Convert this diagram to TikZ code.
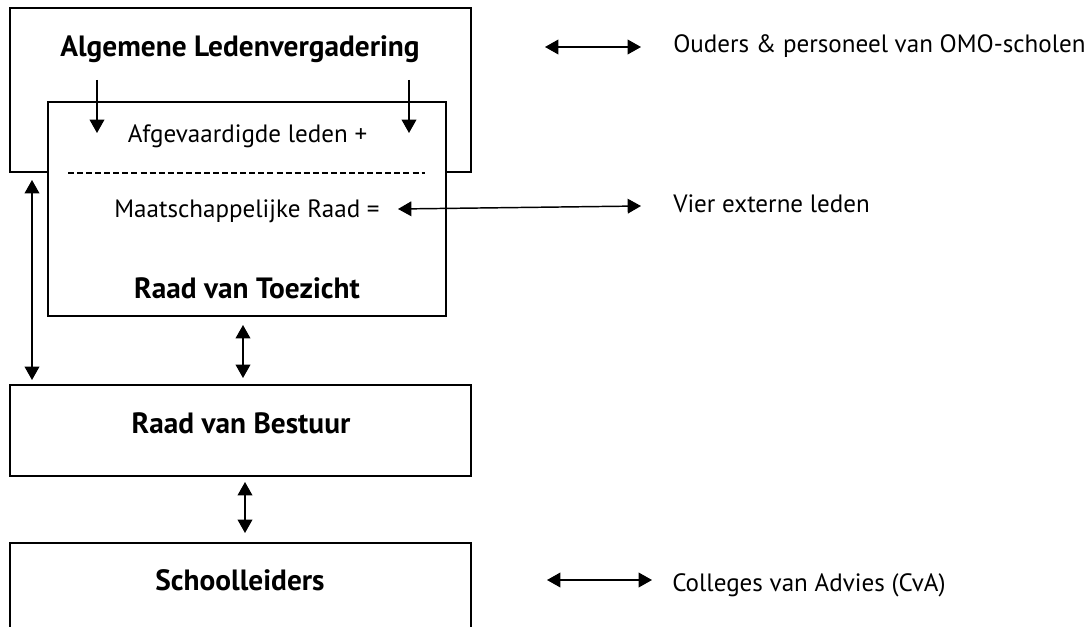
\documentclass[tikz,border=0pt]{standalone}
\usepackage{fontspec}
\setmainfont{PT Sans}
\usepackage{tikz}
\usetikzlibrary{arrows.meta}
\tikzset{box/.style={draw,line width=1.1pt,fill=white,inner sep=0pt}}
\tikzset{h/.style={font=\fontsize{22}{22}\selectfont\bfseries,inner sep=0pt}}
\tikzset{t/.style={font=\fontsize{18.8}{18.8}\selectfont,inner sep=0pt}}
\tikzset{dbl/.style={line width=1.1pt,{Triangle[length=10pt,width=11pt]}-{Triangle[length=10pt,width=11pt]}}}
\tikzset{sgl/.style={line width=1.1pt,-{Triangle[length=10pt,width=11pt]}}}

\begin{document}
\begin{tikzpicture}[x=0.75pt,y=-0.75pt]
  \clip (0,0) rectangle (1091,627);
  % boxes
  \node[box,minimum width=345.75pt,minimum height=123pt] (alv) at (240.5,90) {};
  \node[box,minimum width=298.5pt,minimum height=160.5pt] (rvt) at (247,209) {};
  \node[box,minimum width=345.75pt,minimum height=68.25pt] (rvb) at (240.5,430.5) {};
  \node[box,minimum width=345.75pt,minimum height=87.75pt] (sl) at (240.5,601.5) {};
  % titles
  \node[h,anchor=base] (alvt) at (240,57) {Algemene Ledenvergadering};
  \node[t,anchor=base] (afg) at (247.5,143) {Afgevaardigde leden +};
  \node[t,anchor=base] (mr) at (247,218) {Maatschappelijke Raad =};
  \node[h,anchor=base] (rvtt) at (247,298) {Raad van Toezicht};
  \node[h,anchor=base] (rvbt) at (241,433) {Raad van Bestuur};
  \node[h,anchor=base] (slt) at (240,590) {Schoolleiders};
  % outside
  \node[t,anchor=base west] (ouders) at (673,53) {Ouders \& personeel van OMO-scholen};
  \node[t,anchor=base west] (vier) at (673,213) {Vier externe leden};
  \node[t,anchor=base west] (cva) at (672,591) {Colleges van Advies (CvA)};
  % ends
  \coordinate (a1) at (97,80);   \coordinate (b1) at (97,133);
  \coordinate (a2) at (409,80);  \coordinate (b2) at (409,133);
  \coordinate (d1) at (68,173);  \coordinate (d2) at (425,173);
  \coordinate (l1) at (32,180);  \coordinate (l2) at (32,380);
  \coordinate (m1) at (243,325); \coordinate (m2) at (243,378);
  \coordinate (n1) at (245,482); \coordinate (n2) at (245,533);
  \coordinate (o1) at (545,47);  \coordinate (p1) at (398,209);
  \coordinate (c1) at (547,580);
  \draw[sgl] (a1) -- (b1);
  \draw[sgl] (a2) -- (b2);
  \draw[line width=1pt,dash pattern=on 4.5pt off 2.3pt] (d1) -- (d2);
  \draw[dbl] (l1) -- (l2);
  \draw[dbl] (m1) -- (m2);
  \draw[dbl] (n1) -- (n2);
  \draw[dbl] (o1) -- ([xshift=-24pt]ouders.west |- o1);
  \draw[dbl] (p1) -- ([xshift=-24pt]vier.west |- 0,206);
  \draw[dbl] (c1) -- ([xshift=-15pt]cva.west |- c1);
\end{tikzpicture}
\end{document}
